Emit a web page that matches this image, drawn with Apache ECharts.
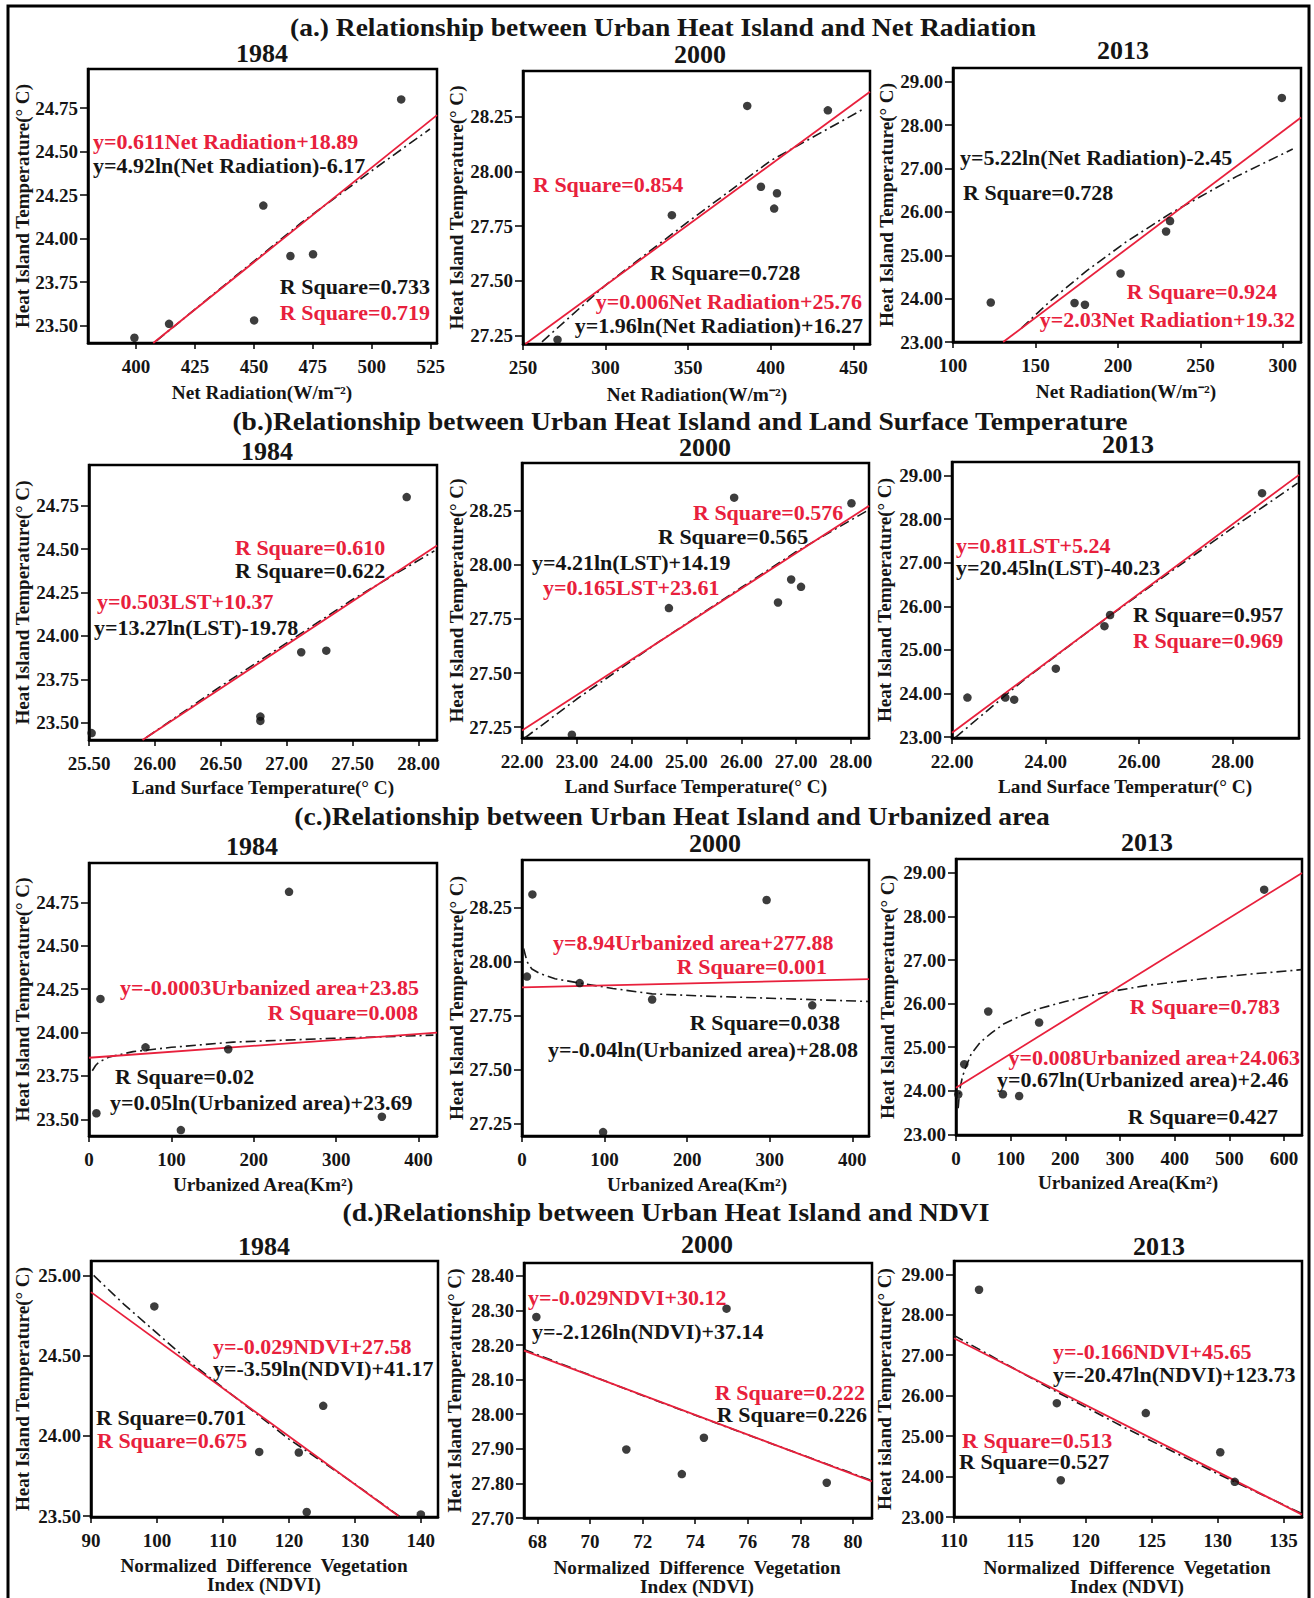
<!DOCTYPE html>
<html><head><meta charset="utf-8">
<script src="https://cdn.jsdelivr.net/npm/echarts@6/dist/echarts.min.js"></script>
<style>html,body{margin:0;padding:0;background:#fff}#c{width:1314px;height:1598px}</style>
</head><body><div id="c"></div>
<script>
// ---------------- DATA ----------------
// (a) Net Radiation
const nr1984 = [399.3, 414.0, 450.1, 454.0, 465.5, 475.1, 512.5];
const uhiA1984 = [23.43, 23.51, 23.53, 24.19, 23.90, 23.91, 24.80];
const fitLinA1984 = [[407.3, 23.40], [527.7, 24.71]];
const fitLogA1984 = [[408.8, 23.414], [440, 23.76], [470, 24.09], [500, 24.39], [524.7, 24.63]];

const nr2000 = [270.9, 340.1, 385.7, 394.0, 403.7, 402.0, 434.5];
const uhiA2000 = [27.23, 27.80, 28.30, 27.93, 27.90, 27.83, 28.28];
const fitLinA2000 = [[251.4, 27.21], [460, 28.365]];
const fitLogA2000 = [[261.5, 27.22], [300, 27.48], [350, 27.77], [400, 28.05], [457, 28.29]];

const nr2013 = [122.9, 173.7, 180.0, 201.6, 229.2, 231.6, 299.4];
const uhiA2013 = [23.91, 23.90, 23.86, 24.58, 25.55, 25.79, 28.63];
const fitLinA2013 = [[130.4, 23.0], [311, 28.18]];
const fitLogA2013 = [[141.5, 23.32], [160, 23.98], [181, 24.64], [205, 25.31], [231.6, 25.96], [272, 26.82], [306, 27.45]];

// (b) Land Surface Temperature
const lst1984 = [25.52, 26.80, 26.80, 27.11, 27.30, 27.91];
const uhiB1984 = [23.44, 23.535, 23.51, 23.906, 23.915, 24.80];
const fitLinB1984 = [[25.906, 23.40], [28.14, 24.521]];
const fitLogB1984 = [[25.936, 23.415], [26.5, 23.71], [27, 23.96], [27.5, 24.21], [28.12, 24.49]];

const lst2000 = [22.91, 24.68, 25.87, 26.67, 26.91, 27.09, 28.01];
const uhiB2000 = [27.215, 27.80, 28.31, 27.826, 27.932, 27.898, 28.284];
const fitLinB2000 = [[22, 27.235], [28.33, 28.272]];
const fitLogB2000 = [[22.05, 27.2], [23, 27.38], [24.5, 27.645], [26, 27.895], [27, 28.06], [28.32, 28.253]];

const lst2013 = [22.33, 23.14, 23.33, 24.22, 25.26, 25.38, 28.63];
const uhiB2013 = [23.906, 23.906, 23.86, 24.57, 25.545, 25.80, 28.595];
const fitLinB2013 = [[22, 23.10], [29.42, 29.015]];
const fitLogB2013 = [[22.07, 22.99], [23.5, 24.28], [25, 25.49], [26.5, 26.66], [28, 27.8], [29.39, 28.825]];

// (c) Urbanized area
const ua1984 = [9.0, 13.9, 68.6, 169.0, 242.8, 111.5, 355.5];
const uhiC1984 = [23.535, 24.194, 23.915, 23.904, 24.811, 23.438, 23.515];
const fitLinC1984 = [[0, 23.855], [422.4, 24.0]];
const fitLogC1984 = [[4, 23.78], [8, 23.81], [12, 23.83], [25, 23.86], [53.5, 23.89], [100, 23.915], [175, 23.945], [297, 23.967], [418, 23.985]];

const ua2000 = [12.6, 6.0, 69.9, 157.6, 296.2, 351.5, 98.2];
const uhiC2000 = [28.31, 27.93, 27.90, 27.824, 28.284, 27.797, 27.211];
const fitLinC2000 = [[0, 27.88], [420.2, 27.918]];
const fitLogC2000 = [[2, 28.06], [4, 28.03], [6, 28.0], [9, 27.98], [12, 27.965], [21.5, 27.944], [40, 27.92], [70, 27.90], [110, 27.875], [157.6, 27.85], [220, 27.84], [300, 27.83], [419, 27.815]];

const ua2013 = [4.2, 15.1, 59.0, 85.8, 115.5, 152.0, 563.6];
const uhiC2013 = [23.92, 24.61, 25.82, 23.92, 23.88, 25.566, 28.616];
const fitLinC2013 = [[0, 24.07], [632.8, 29.0]];
const fitLogC2013 = [[4, 23.6], [6, 23.9], [8, 24.1], [12, 24.33], [18, 24.55], [28, 24.85], [45, 25.12], [65, 25.33], [88, 25.54], [115, 25.7], [148, 25.87], [200, 26.05], [270, 26.25], [350, 26.42], [451, 26.57], [540, 26.68], [632, 26.78]];

// (d) NDVI
const ndvi1984 = [99.6, 125.2, 115.5, 121.5, 122.7, 140.0];
const uhiD1984 = [24.807, 24.187, 23.90, 23.896, 23.525, 23.51];
const fitLinD1984 = [[90, 24.896], [136.6, 23.5]];
const fitLogD1984 = [[90.4, 25.0], [95, 24.82], [100, 24.64], [105, 24.46], [110, 24.30], [120, 23.98], [130, 23.70], [136.9, 23.494]];

const ndvi2000 = [67.96, 75.19, 71.38, 74.33, 73.49, 79.0];
const uhiD2000 = [28.281, 28.305, 27.898, 27.932, 27.827, 27.802];
const fitLinD2000 = [[67.49, 28.184], [80.72, 27.806]];
const fitLogD2000 = [[67.49, 28.187], [72, 28.054], [76, 27.94], [80.72, 27.808]];

const ndvi2013 = [111.9, 117.8, 118.1, 124.55, 130.2, 131.3];
const uhiD2013 = [28.62, 25.815, 23.91, 25.57, 24.60, 23.87];
const fitLinD2013 = [[110, 27.42], [136.4, 23.06]];
const fitLogD2013 = [[110, 27.49], [117, 26.23], [123, 25.2], [130, 24.07], [136.3, 23.1]];

// tick labels
const ticksNR1984 = [400, 425, 450, 475, 500, 525];
const ticksNR2000 = [250, 300, 350, 400, 450];
const ticksNR2013 = [100, 150, 200, 250, 300];
const ticksLST1984 = [25.5, 26, 26.5, 27, 27.5, 28];
const ticksLST2000 = [22, 23, 24, 25, 26, 27, 28];
const ticksLST2013 = [22, 24, 26, 28];
const ticksUA400 = [0, 100, 200, 300, 400];
const ticksUA600 = [0, 100, 200, 300, 400, 500, 600];
const ticksNDVI1984 = [90, 100, 110, 120, 130, 140];
const ticksNDVI2000 = [68, 70, 72, 74, 76, 78, 80];
const ticksNDVI2013 = [110, 115, 120, 125, 130, 135];
const ticksUHI1984 = [23.5, 23.75, 24, 24.25, 24.5, 24.75];
const ticksUHI2000 = [27.25, 27.5, 27.75, 28, 28.25];
const ticksUHI2013 = [23, 24, 25, 26, 27, 28, 29];
const ticksUHID1984 = [23.5, 24, 24.5, 25];
const ticksUHID2000 = [27.7, 27.8, 27.9, 28.0, 28.1, 28.2, 28.3, 28.4];

// text
const rowTitles = [
  '(a.) Relationship between Urban Heat Island and Net Radiation',
  '(b.)Relationship between Urban Heat Island and Land Surface Temperature',
  '(c.)Relationship between Urban Heat Island and Urbanized area',
  '(d.)Relationship between Urban Heat Island and NDVI'
];
const years = ['1984', '2000', '2013'];
const xTitleNR = 'Net Radiation(W/m\u207B\u00B2)';
const xTitleLST = 'Land Surface Temperature(\u00B0 C)';
const xTitleLST2 = 'Land Surface Temperatur(\u00B0 C)';
const xTitleUA = 'Urbanized Area(Km\u00B2)';
const xTitleNDVI1 = 'Normalized  Difference  Vegetation';
const xTitleNDVI2 = 'Index (NDVI)';
const yTitle = 'Heat Island Temperature(\u00B0 C)';
const yTitleIsland = 'Heat island Temperature(\u00B0 C)';

// ---------------- LAYOUT ----------------
const RED = '#e8203c', BLK = '#151515', FONT = '"Liberation Serif", "Times New Roman", serif';
function zip(a, b) { return a.map((v, i) => [v, b[i]]); }

const panels = [
  {box:[88,69,437,343],  xr:[379.6,527.7], yr:[23.40,24.975], x:nr1984, y:uhiA1984, lin:fitLinA1984, log:fitLogA1984, xt:ticksNR1984, yt:ticksUHI1984, xd:0, yd:2, year:[262,54], xTitle:[xTitleNR,262,393], yTx:23},
  {box:[523,71,870,344], xr:[250,460],     yr:[27.21,28.46],  x:nr2000, y:uhiA2000, lin:fitLinA2000, log:fitLogA2000, xt:ticksNR2000, yt:ticksUHI2000, xd:0, yd:2, year:[700,55], xTitle:[xTitleNR,697,395], yTx:457},
  {box:[953,68,1301,342],xr:[100,311],     yr:[23,29.32],     x:nr2013, y:uhiA2013, lin:fitLinA2013, log:fitLogA2013, xt:ticksNR2013, yt:ticksUHI2013, xd:0, yd:2, year:[1123,51], xTitle:[xTitleNR,1126,392], yTx:887},

  {box:[89,465,437,740], xr:[25.5,28.14],  yr:[23.40,24.985], x:lst1984, y:uhiB1984, lin:fitLinB1984, log:fitLogB1984, xt:ticksLST1984, yt:ticksUHI1984, xd:2, yd:2, year:[267,452], xTitle:[xTitleLST,263,788], yTx:23},
  {box:[522,463,869,738],xr:[22,28.33],    yr:[27.2,28.47],   x:lst2000, y:uhiB2000, lin:fitLinB2000, log:fitLogB2000, xt:ticksLST2000, yt:ticksUHI2000, xd:2, yd:2, year:[705,448], xTitle:[xTitleLST,696,787], yTx:457},
  {box:[952,462,1299,738],xr:[22,29.42],   yr:[22.98,29.31],  x:lst2013, y:uhiB2013, lin:fitLinB2013, log:fitLogB2013, xt:ticksLST2013, yt:ticksUHI2013, xd:2, yd:2, year:[1128,445], xTitle:[xTitleLST2,1125,787], yTx:885},

  {box:[89,863,437,1136], xr:[0,422.4],    yr:[23.404,24.977], x:ua1984, y:uhiC1984, lin:fitLinC1984, log:fitLogC1984, xt:ticksUA400, yt:ticksUHI1984, xd:0, yd:2, year:[252,847], xTitle:[xTitleUA,263,1185], yTx:23},
  {box:[522,860,869,1136],xr:[0,420.2],    yr:[27.193,28.469], x:ua2000, y:uhiC2000, lin:fitLinC2000, log:fitLogC2000, xt:ticksUA400, yt:ticksUHI2000, xd:0, yd:2, year:[715,844], xTitle:[xTitleUA,697,1185], yTx:457},
  {box:[956,859,1302,1135],xr:[0,632.8],   yr:[22.985,29.32],  x:ua2013, y:uhiC2013, lin:fitLinC2013, log:fitLogC2013, xt:ticksUA600, yt:ticksUHI2013, xd:0, yd:2, year:[1147,843], xTitle:[xTitleUA,1128,1183], yTx:888},

  {box:[91,1261,438,1517], xr:[90,142.6],  yr:[23.494,25.09], x:ndvi1984, y:uhiD1984, lin:fitLinD1984, log:fitLogD1984, xt:ticksNDVI1984, yt:ticksUHID1984, xd:0, yd:2, year:[264,1247], xTitle:null, xT2:[264,1566,1585], yTx:23},
  {box:[524,1263,872,1518],xr:[67.49,80.72],yr:[27.70,28.437], x:ndvi2000, y:uhiD2000, lin:fitLinD2000, log:fitLogD2000, xt:ticksNDVI2000, yt:ticksUHID2000, xd:0, yd:2, year:[707,1245], xTitle:null, xT2:[697,1568,1587], yTx:455},
  {box:[954,1261,1302,1517],xr:[110,136.4],yr:[23.0,29.33],  x:ndvi2013, y:uhiD2013, lin:fitLinD2013, log:fitLogD2013, xt:ticksNDVI2013, yt:ticksUHI2013, xd:0, yd:2, year:[1159,1247], xTitle:null, xT2:[1127,1568,1587], yTx:885, yTitle:yTitleIsland}
];

const rowTitlePos = [[663,28],[680,422],[672,817],[666,1213]];

// annotations: [text, colour, x, y, align]
const notes = [
  ['y=0.611Net Radiation+18.89', RED, 93, 142, 'left'],
  ['y=4.92ln(Net Radiation)-6.17', BLK, 93, 166, 'left'],
  ['R Square=0.733', BLK, 430, 287, 'right'],
  ['R Square=0.719', RED, 430, 313, 'right'],
  ['R Square=0.854', RED, 533, 185, 'left'],
  ['R Square=0.728', BLK, 650, 273, 'left'],
  ['y=0.006Net Radiation+25.76', RED, 862, 302, 'right'],
  ['y=1.96ln(Net Radiation)+16.27', BLK, 863, 326, 'right'],
  ['y=5.22ln(Net Radiation)-2.45', BLK, 960, 158, 'left'],
  ['R Square=0.728', BLK, 963, 193, 'left'],
  ['R Square=0.924', RED, 1277, 292, 'right'],
  ['y=2.03Net Radiation+19.32', RED, 1295, 320, 'right'],

  ['R Square=0.610', RED, 235, 548, 'left'],
  ['R Square=0.622', BLK, 235, 571, 'left'],
  ['y=0.503LST+10.37', RED, 97, 602, 'left'],
  ['y=13.27ln(LST)-19.78', BLK, 94, 628, 'left'],
  ['R Square=0.576', RED, 693, 513, 'left'],
  ['R Square=0.565', BLK, 658, 537, 'left'],
  ['y=4.21ln(LST)+14.19', BLK, 532, 563, 'left'],
  ['y=0.165LST+23.61', RED, 543, 588, 'left'],
  ['y=0.81LST+5.24', RED, 956, 546, 'left'],
  ['y=20.45ln(LST)-40.23', BLK, 956, 568, 'left'],
  ['R Square=0.957', BLK, 1133, 615, 'left'],
  ['R Square=0.969', RED, 1133, 641, 'left'],

  ['y=-0.0003Urbanized area+23.85', RED, 120, 988, 'left'],
  ['R Square=0.008', RED, 418, 1013, 'right'],
  ['R Square=0.02', BLK, 115, 1077, 'left'],
  ['y=0.05ln(Urbanized area)+23.69', BLK, 110, 1103, 'left'],
  ['y=8.94Urbanized area+277.88', RED, 553, 943, 'left'],
  ['R Square=0.001', RED, 827, 967, 'right'],
  ['R Square=0.038', BLK, 840, 1023, 'right'],
  ['y=-0.04ln(Urbanized area)+28.08', BLK, 548, 1050, 'left'],
  ['R Square=0.783', RED, 1280, 1007, 'right'],
  ['y=0.008Urbanized area+24.063', RED, 1300, 1058, 'right'],
  ['y=0.67ln(Urbanized area)+2.46', BLK, 997, 1080, 'left'],
  ['R Square=0.427', BLK, 1278, 1117, 'right'],

  ['y=-0.029NDVI+27.58', RED, 213, 1347, 'left'],
  ['y=-3.59ln(NDVI)+41.17', BLK, 213, 1369, 'left'],
  ['R Square=0.701', BLK, 96, 1418, 'left'],
  ['R Square=0.675', RED, 97, 1441, 'left'],
  ['y=-0.029NDVI+30.12', RED, 528, 1298, 'left'],
  ['y=-2.126ln(NDVI)+37.14', BLK, 532, 1332, 'left'],
  ['R Square=0.222', RED, 865, 1393, 'right'],
  ['R Square=0.226', BLK, 867, 1415, 'right'],
  ['y=-0.166NDVI+45.65', RED, 1053, 1352, 'left'],
  ['y=-20.47ln(NDVI)+123.73', BLK, 1053, 1375, 'left'],
  ['R Square=0.513', RED, 962, 1441, 'left'],
  ['R Square=0.527', BLK, 959, 1462, 'left']
];

// ---------------- BUILD ----------------
function txt(text, x, y, size, fill, align, rot, sx) {
  return {type:'text', x:x, y:y, rotation: rot || 0, scaleX: sx || 1, z:100, silent:true,
    style:{text:text, fill:fill || BLK, fontSize:size, fontFamily:FONT, fontWeight:'bold',
      align:align || 'center', verticalAlign:'middle', lineHeight:size}};
}

const grid = [], xAxis = [], yAxis = [], series = [];
const graphic = [{type:'rect', shape:{x:8, y:6, width:1301, height:1610}, style:{fill:'none', stroke:'#000', lineWidth:3}, silent:true, z:0}];

panels.forEach((p, i) => {
  const [l, t, r, b] = p.box;
  grid.push({left:l, top:t, width:r - l, height:b - t, show:true, borderColor:'#000', borderWidth:2.5, backgroundColor:'transparent'});
  xAxis.push({type:'value', gridIndex:i, min:p.xr[0], max:p.xr[1],
    axisLine:{show:true, onZero:false, lineStyle:{color:'#000', width:2.5}},
    axisTick:{show:true, customValues:p.xt, length:6, lineStyle:{color:'#000', width:1.5}},
    axisLabel:{show:true, customValues:p.xt, formatter:(v) => Number(v).toFixed(p.xd), color:BLK, fontFamily:FONT, fontWeight:'bold', fontSize:19, margin:14},
    splitLine:{show:false}});
  yAxis.push({type:'value', gridIndex:i, min:p.yr[0], max:p.yr[1],
    axisLine:{show:true, onZero:false, lineStyle:{color:'#000', width:2.5}},
    axisTick:{show:true, customValues:p.yt, length:8, lineStyle:{color:'#000', width:1.5}},
    axisLabel:{show:true, customValues:p.yt, formatter:(v) => Number(v).toFixed(p.yd), color:BLK, fontFamily:FONT, fontWeight:'bold', fontSize:19, margin:10},
    splitLine:{show:false}});
  series.push({type:'line', xAxisIndex:i, yAxisIndex:i, data:p.log, showSymbol:false, symbol:'none', smooth:false,
    lineStyle:{color:'#1a1a1a', width:1.6, type:[10,4,2,4]}, z:2, silent:true, clip:true});
  series.push({type:'line', xAxisIndex:i, yAxisIndex:i, data:p.lin, showSymbol:false, symbol:'none',
    lineStyle:{color:RED, width:1.8}, z:3, silent:true, clip:true});
  series.push({type:'scatter', xAxisIndex:i, yAxisIndex:i, data:zip(p.x, p.y), symbol:'circle', symbolSize:8.5,
    itemStyle:{color:'#0d0d0d'}, z:4, silent:true, clip:true});

  graphic.push(txt(years[i % 3], p.year[0], p.year[1], 25, BLK, 'center', 0, 1.04));
  if (p.xTitle) graphic.push(txt(p.xTitle[0], p.xTitle[1], p.xTitle[2], 18, BLK, 'center', 0, 1.07));
  if (p.xT2) {
    graphic.push(txt(xTitleNDVI1, p.xT2[0], p.xT2[1], 18, BLK, 'center', 0, 1.07));
    graphic.push(txt(xTitleNDVI2, p.xT2[0], p.xT2[2], 18, BLK, 'center', 0, 1.07));
  }
  graphic.push(txt(p.yTitle || yTitle, p.yTx, (t + b) / 2, 18, BLK, 'center', Math.PI / 2, 1.06));
});

rowTitles.forEach((s, k) => graphic.push(txt(s, rowTitlePos[k][0], rowTitlePos[k][1], 25, BLK, 'center', 0, 1.1)));
notes.forEach(n => graphic.push(txt(n[0], n[2], n[3], 20, n[1], n[4], 0, 1.1)));

const chart = echarts.init(document.getElementById('c'), null, {renderer:'svg', width:1314, height:1598});
chart.setOption({animation:false, backgroundColor:'#fff', grid, xAxis, yAxis, series, graphic});
</script>
</body></html>
